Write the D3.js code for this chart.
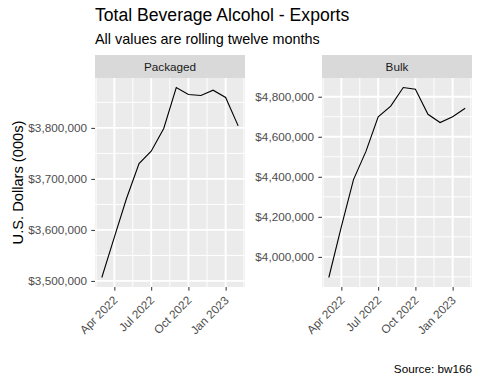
<!DOCTYPE html>
<html>
<head>
<meta charset="utf-8">
<script src="https://cdn.jsdelivr.net/npm/d3@7"></script>
<style>
  body { margin: 0; background: #fff; }
  svg { display: block; font-family: "Liberation Sans", Arial, sans-serif; }
</style>
</head>
<body>
<svg id="chart" width="480" height="384"></svg>
<script>
// monthly dates (rolling twelve months)
const months = ['2022-03-01', '2022-04-01', '2022-05-01', '2022-06-01', '2022-07-01', '2022-08-01',
  '2022-09-01', '2022-10-01', '2022-11-01', '2022-12-01', '2023-01-01', '2023-02-01']
const packaged = [3506700, 3586000, 3661600, 3730000, 3754300, 3798800,
  3879200, 3865500, 3863500, 3874000, 3859600, 3804000]
const bulk = [3897000, 4151000, 4386000, 4528000, 4700000, 4753000,
  4846000, 4837000, 4712000, 4671000, 4700000, 4742000]
const packagedTicks = [3500000, 3600000, 3700000, 3800000]
const bulkTicks = [4000000, 4200000, 4400000, 4600000, 4800000]
const dateTicks = ['2022-04-01', '2022-07-01', '2022-10-01', '2023-01-01']

const parse = d3.timeParse('%Y-%m-%d')
const dates = months.map(parse)
const xTicks = dateTicks.map(parse)

const svg = d3.select('#chart')
const panelTop = 78
const panelBottom = 287
const stripH = 23

svg.append('text').attr('x', 95).attr('y', 21)
  .attr('font-size', '17.6px').attr('fill', '#000')
  .text('Total Beverage Alcohol - Exports')
svg.append('text').attr('x', 95).attr('y', 44)
  .attr('font-size', '14.4px').attr('fill', '#000')
  .text('All values are rolling twelve months')

svg.append('text')
  .attr('transform', `translate(23,${(panelTop + panelBottom) / 2}) rotate(-90)`)
  .attr('text-anchor', 'middle')
  .attr('font-size', '14.67px').attr('fill', '#000')
  .text('U.S. Dollars (000s)')

svg.append('text').attr('x', 472).attr('y', 373)
  .attr('text-anchor', 'end')
  .attr('font-size', '11.73px').attr('fill', '#000')
  .text('Source: bw166')

const fmt = d3.format('$,.0f')

const expand = (lo, hi) => {
  const pad = (hi - lo) * 0.05
  return [lo - pad, hi + pad]
}

const drawPanel = (left, right, name, values, ticks, step) => {
  const x = d3.scaleTime()
    .domain(expand(+dates[0], +dates[dates.length - 1]))
    .range([left, right])
  const y = d3.scaleLinear()
    .domain(expand(d3.min(values), d3.max(values)))
    .range([panelBottom, panelTop])

  // strip
  svg.append('rect')
    .attr('x', left).attr('y', panelTop - stripH)
    .attr('width', right - left).attr('height', stripH)
    .attr('fill', '#D9D9D9')
  svg.append('text')
    .attr('x', (left + right) / 2).attr('y', panelTop - 7)
    .attr('text-anchor', 'middle')
    .attr('font-size', '11.73px').attr('fill', '#1A1A1A')
    .text(name)

  // panel
  svg.append('rect')
    .attr('x', left).attr('y', panelTop)
    .attr('width', right - left).attr('height', panelBottom - panelTop)
    .attr('fill', '#EBEBEB')

  const g = svg.append('g')

  // minor grid
  const [y0, y1] = y.domain()
  const yMinor = []
  for (let v = ticks[0] - step / 2; v <= y1; v += step) {
    if (v >= y0) yMinor.push(v)
  }
  g.selectAll('.ymin').data(yMinor).enter().append('line')
    .attr('x1', left).attr('x2', right)
    .attr('y1', (d) => y(d)).attr('y2', (d) => y(d))
    .attr('stroke', '#fff').attr('stroke-width', 0.95)

  const xMinor = []
  for (let i = 0; i <= xTicks.length; i++) {
    const a = i === 0 ? d3.timeMonth.offset(xTicks[0], -3) : xTicks[i - 1]
    const b = i === xTicks.length ? d3.timeMonth.offset(xTicks[i - 1], 3) : xTicks[i]
    const m = new Date((+a + +b) / 2)
    const px = x(m)
    if (px >= left && px <= right) xMinor.push(m)
  }
  g.selectAll('.xmin').data(xMinor).enter().append('line')
    .attr('x1', (d) => x(d)).attr('x2', (d) => x(d))
    .attr('y1', panelTop).attr('y2', panelBottom)
    .attr('stroke', '#fff').attr('stroke-width', 0.95)

  // major grid
  g.selectAll('.ymaj').data(ticks).enter().append('line')
    .attr('x1', left).attr('x2', right)
    .attr('y1', (d) => y(d)).attr('y2', (d) => y(d))
    .attr('stroke', '#fff').attr('stroke-width', 1.9)
  g.selectAll('.xmaj').data(xTicks).enter().append('line')
    .attr('x1', (d) => x(d)).attr('x2', (d) => x(d))
    .attr('y1', panelTop).attr('y2', panelBottom)
    .attr('stroke', '#fff').attr('stroke-width', 1.9)

  // line
  const line = d3.line()
    .x((d, i) => x(dates[i]))
    .y((d) => y(d))
  g.append('path')
    .datum(values)
    .attr('d', line)
    .attr('fill', 'none')
    .attr('stroke', '#000')
    .attr('stroke-width', 1.1)

  // y axis
  const yAxis = svg.append('g')
    .attr('transform', `translate(${left},0)`)
    .call(d3.axisLeft(y).tickValues(ticks).tickFormat(fmt).tickSize(3.7).tickPadding(4.3))
  yAxis.select('.domain').remove()
  yAxis.selectAll('line').attr('stroke', '#333333').attr('stroke-width', 1)
  yAxis.selectAll('text')
    .attr('fill', '#4D4D4D').attr('font-size', '11.73px')
    .attr('font-family', '"Liberation Sans", Arial, sans-serif')

  // x axis
  const xAxis = svg.append('g')
    .attr('transform', `translate(0,${panelBottom})`)
    .call(d3.axisBottom(x).tickValues(xTicks).tickFormat(d3.timeFormat('%b %Y')).tickSize(3.7))
  xAxis.select('.domain').remove()
  xAxis.selectAll('line').attr('stroke', '#333333').attr('stroke-width', 1)
  xAxis.selectAll('text')
    .attr('fill', '#4D4D4D').attr('font-size', '11.73px')
    .attr('font-family', '"Liberation Sans", Arial, sans-serif')
    .attr('text-anchor', 'end')
    .attr('y', 0).attr('dy', '0.7em')
    .attr('transform', 'translate(-2.4,8.2) rotate(-45)')
}

drawPanel(95, 245, 'Packaged', packaged, packagedTicks, 100000)
drawPanel(322, 472, 'Bulk', bulk, bulkTicks, 200000)
</script>
</body>
</html>
